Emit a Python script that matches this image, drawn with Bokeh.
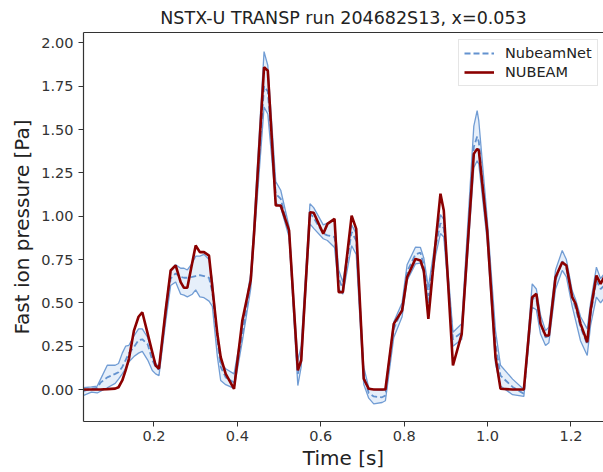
from bokeh.plotting import figure
from bokeh.models import (Range1d, FixedTicker, LinearAxis, CustomJSTickFormatter,
                          PrintfTickFormatter, Label, Legend, LegendItem, ColumnDataSource)
from bokeh.embed import file_html
from bokeh.resources import INLINE

# ---- data ----
time_s = [0.03, 0.05, 0.064, 0.072, 0.088, 0.107, 0.115, 0.124, 0.132, 0.14,
          0.152, 0.163, 0.172, 0.185, 0.196, 0.204, 0.212, 0.228, 0.24, 0.252,
          0.264, 0.272, 0.28, 0.292, 0.30, 0.31, 0.32, 0.332, 0.34, 0.352,
          0.36, 0.372, 0.392, 0.412, 0.432, 0.44, 0.464, 0.473, 0.492, 0.504,
          0.524, 0.545, 0.553, 0.574, 0.583, 0.606, 0.616, 0.633, 0.643, 0.653,
          0.674, 0.685, 0.703, 0.715, 0.727, 0.747, 0.755, 0.775, 0.795, 0.807,
          0.827, 0.839, 0.847, 0.858, 0.875, 0.887, 0.895, 0.917, 0.938, 0.967,
          0.975, 0.979, 0.999, 1.019, 1.031, 1.06, 1.087, 1.107, 1.117, 1.127,
          1.139, 1.147, 1.163, 1.179, 1.189, 1.203, 1.211, 1.223, 1.239, 1.247,
          1.261, 1.271, 1.28]

nubeam = [0, 0, 0, 0, 20, 50, 130, 520, 1100, 1770,
          3400, 4200, 4460, 3210, 2150, 1385, 1200, 4560, 6870, 7160,
          6200, 5870, 5870, 7350, 8310, 7930, 7930, 7730, 5900, 3200,
          1870, 900, 40, 4000, 6300, 9000, 18600, 18400, 10620, 10620,
          9180, 1100, 1670, 10230, 10200, 8990, 9560, 9850, 5620, 5620,
          10040, 9275, 620, 40, 0, 0, 0, 3790, 4560, 6480,
          7540, 7450, 6870, 4080, 8410, 11300, 10330, 1385, 3215, 13600,
          13890, 13800, 9180, 1870, 40, 0, 0, 5330, 5520, 3790,
          3120, 3120, 6480, 7350, 7160, 5330, 4950, 3790, 2730, 4560,
          6580, 6100, 6500]

net_mean = [-100, 50, 100, 400, 700, 900, 1000, 1300, 1700, 2100,
            2450, 2850, 2900, 2600, 1700, 1300, 1150, 4300, 6400, 6700,
            6500, 6450, 6450, 6500, 6550, 6600, 6550, 6450, 5600, 2900,
            1300, 700, 400, 3200, 6200, 9000, 17500, 17200, 11300, 11000,
            9100, 900, 1900, 10200, 9900, 9000, 8900, 8800, 6400, 5800,
            9100, 8600, 800, -200, -400, -450, -350, 3500, 4600, 6800,
            7800, 7900, 7200, 5400, 8200, 9600, 9300, 2900, 3300, 14000,
            14600, 14300, 9300, 2600, 800, 150, -250, 5300, 5200, 3800,
            3000, 3100, 6300, 7400, 7000, 5300, 4700, 3600, 2600, 4300,
            6300, 5800, 6000]

net_low = [-350, -150, -200, -100, 100, 350, 600, 900, 1200, 1600,
           1900, 2100, 2200, 1700, 1100, 900, 800, 3900, 6000, 6200,
           5500, 5450, 5350, 5500, 5750, 5350, 5300, 5100, 4800, 1900,
           520, 280, 60, 2800, 5800, 8600, 16300, 15900, 10800, 10500,
           8800, 230, 1300, 9560, 9300, 8700, 8600, 8200, 5800, 5500,
           8300, 7800, 300, -500, -830, -750, -650, 3000, 4200, 6300,
           7250, 7300, 6700, 5000, 7700, 9000, 8800, 2500, 2900, 12800,
           13200, 13000, 8600, 1500, 200, -300, -400, 4750, 4600, 3200,
           2540, 2700, 5800, 6870, 6500, 4800, 4000, 2800, 1960, 3700,
           5330, 5000, 5300]

net_high = [100, 150, 200, 600, 1400, 1400, 1500, 2100, 2500, 2550,
            3100, 3500, 3500, 3000, 2100, 1500, 1300, 4700, 6900, 7200,
            7000, 7000, 6900, 7300, 7700, 7700, 7800, 7500, 6300, 3100,
            1500, 1200, 900, 3600, 6700, 9600, 19500, 18700, 12000, 11500,
            9400, 1670, 2500, 10720, 10500, 9500, 9600, 9800, 6900, 6200,
            9500, 9000, 1300, 100, 0, -50, 50, 3900, 5000, 7200,
            8210, 8200, 7600, 5900, 8600, 10100, 9800, 3300, 3800, 15200,
            16100, 15500, 9900, 3400, 1400, 600, 0, 6100, 5800, 4300,
            3400, 3600, 6900, 8020, 7500, 5700, 5200, 4200, 3500, 5000,
            7060, 6400, 6700]

x_ticks = [0.2, 0.4, 0.6, 0.8, 1.0, 1.2]
y_ticks = [0, 2500, 5000, 7500, 10000, 12500, 15000, 17500, 20000]

title_text = "NSTX-U TRANSP run 204682S13, x=0.053"
series_names = ["NubeamNet", "NUBEAM"]

src = ColumnDataSource(dict(t=time_s, red=nubeam, mean=net_mean, lo=net_low, hi=net_high))

FONT = "DejaVu Sans"
BLUE = "#6392cf"
RED = "#8b0000"
AXC = "#333333"

p = figure(width=603, height=472, output_backend="svg", toolbar_location=None,
           x_range=Range1d(0.031, 1.278), y_range=Range1d(-1847, 20606),
           min_border_left=83, min_border_right=0, min_border_top=32, min_border_bottom=51)
p.outline_line_color = None
p.grid.visible = False
p.background_fill_color = "white"
p.border_fill_color = "white"

p.varea(x="t", y1="lo", y2="hi", source=src, fill_color="#dde9f8", fill_alpha=0.75)
p.line("t", "lo", source=src, line_color=BLUE, line_width=1.3, line_alpha=0.9)
p.line("t", "hi", source=src, line_color=BLUE, line_width=1.3, line_alpha=0.9)
r_mean = p.line("t", "mean", source=src, line_color=BLUE, line_width=1.8, line_dash="6 3")
r_red = p.line("t", "red", source=src, line_color=RED, line_width=2.6)

# axes
for ax in (p.xaxis[0], p.yaxis[0]):
    ax.axis_line_color = AXC
    ax.axis_line_width = 1.2
    ax.major_tick_line_color = AXC
    ax.major_tick_out = 5
    ax.major_tick_in = 0
    ax.minor_tick_line_color = None
    ax.major_label_text_font = FONT
    ax.major_label_text_font_size = "14.5px"
    ax.major_label_text_color = "#333333"
    ax.axis_label_text_font = FONT
    ax.axis_label_text_font_style = "normal"
    ax.axis_label_text_font_size = "20px"
    ax.axis_label_text_color = "#222222"

p.xaxis.ticker = FixedTicker(ticks=x_ticks)
p.xaxis.formatter = PrintfTickFormatter(format="%.1f")
p.xaxis.axis_label = "Time [s]"
p.xaxis.major_label_standoff = 4
p.xaxis.axis_label_standoff = 2

p.yaxis.ticker = FixedTicker(ticks=y_ticks)
p.yaxis.formatter = CustomJSTickFormatter(code="return (tick/1e4).toFixed(2);")
p.yaxis.axis_label = "Fast ion pressure [Pa]"
p.yaxis.major_label_standoff = 5
p.yaxis.axis_label_standoff = 4

top = LinearAxis(ticker=FixedTicker(ticks=[]), axis_label=title_text,
                 axis_line_color=AXC, axis_line_width=1.2,
                 major_tick_line_color=None, minor_tick_line_color=None,
                 axis_label_text_font=FONT, axis_label_text_font_style="normal",
                 axis_label_text_font_size="17.5px", axis_label_text_color="#222222",
                 axis_label_standoff=5)
p.add_layout(top, "above")

p.add_layout(Label(x=0.031, y=20606, text="1e4", text_font=FONT, text_font_size="14px",
                   text_color="#333333", text_baseline="bottom", x_offset=1, y_offset=4))

legend = Legend(items=[LegendItem(label=series_names[0], renderers=[r_mean]),
                       LegendItem(label=series_names[1], renderers=[r_red])],
                location=(375, 335), border_line_color="#cccccc", border_line_width=1,
                background_fill_color="white", background_fill_alpha=0.85,
                label_text_font=FONT, label_text_font_size="14.5px", label_text_color="#222222",
                glyph_width=30, glyph_height=14, label_standoff=11, spacing=3,
                padding=5, margin=0)
p.add_layout(legend)

open("out.html", "w").write(file_html(p, INLINE))
